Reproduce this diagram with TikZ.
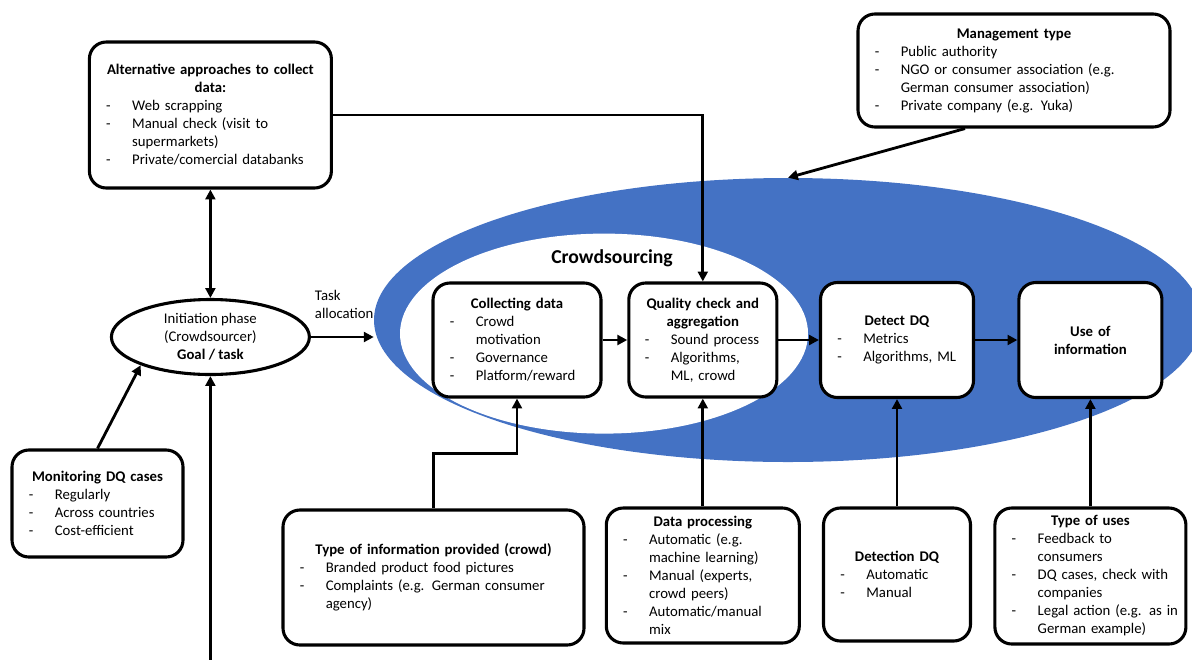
\documentclass[tikz,border=0pt]{standalone}
\usepackage{fontspec}
\setmainfont{Carlito}
\usepackage{tikz}
\usetikzlibrary{arrows.meta,positioning,shapes.geometric,calc}
\definecolor{crowdblue}{RGB}{68,114,196}
\newcommand{\boxfont}{\fontsize{10.5}{12.8}\selectfont}
\newcommand{\boxhead}[1]{\makebox[\linewidth][c]{\bfseries #1}}
\newcommand{\boxitem}[1]{\mbox{\makebox[0.65cm][l]{-}#1}}
\newcommand{\boxcont}[1]{\mbox{\hspace*{0.65cm}#1}}
\tikzset{
  infobox/.style={draw, line width=2.2pt, rounded corners=12pt, fill=white,
                  align=left, font=\boxfont, inner xsep=0.42cm, inner ysep=3pt,
                  text width=#1},
  infobox/.default=3cm,
  arr/.style ={-{Triangle[length=7pt,width=7pt]}, line width=2pt},
  darr/.style={{Triangle[length=7pt,width=7pt]}-{Triangle[length=7pt,width=7pt]},
               line width=2pt},
}

\begin{document}
\begin{tikzpicture}[
  phase/.style={ellipse, draw, line width=2.2pt, inner sep=0pt, align=center,
                font=\boxfont, minimum width=4.95cm, minimum height=1.875cm},
]
\useasboundingbox (0,0) rectangle (29.8,-16.475);

% crowdsourcing area
\node[ellipse, fill=crowdblue, minimum width=20.7cm, minimum height=7.1cm]
  (crowd) at (19.7,-8.0) {};
\node[ellipse, fill=white, minimum width=10.2cm, minimum height=5.0cm]
  (core) at (15.1,-8.34) {};
\node[font=\fontsize{14}{16}\selectfont\bfseries] (cstitle) at (15.3,-6.45)
  {Crowdsourcing};

\node[infobox=5.21cm, minimum height=3.65cm] (alt) at (5.26,-2.875)
  {\boxhead{Alternative approaches to collect}\\
   \boxhead{data:}\\
   \boxitem{Web scrapping}\\
   \boxitem{Manual check (visit to}\\
   \boxcont{supermarkets)}\\
   \boxitem{Private/comercial databanks}};

\node[infobox=6.96cm, minimum height=2.825cm] (mgmt) at (25.35,-1.7625)
  {\boxhead{Management type}\\
   \boxitem{Public authority}\\
   \boxitem{NGO or consumer association (e.g.}\\
   \boxcont{German consumer association)}\\
   \boxitem{Private company (e.g. Yuka)}};

\node[phase] (init) at (5.26,-8.425)
  {Initiation phase\\(Crowdsourcer)\\\textbf{Goal / task}};

\node[font=\boxfont, align=left, anchor=west] (task) at (7.75,-7.6)
  {Task\\allocation};

\node[infobox=3.36cm, minimum height=2.85cm] (coll) at (12.925,-8.5)
  {\boxhead{Collecting data}\\
   \boxitem{Crowd}\\
   \boxcont{motivation}\\
   \boxitem{Governance}\\
   \boxitem{Platform/reward}};

\node[infobox=2.9cm, inner xsep=0.4cm, minimum height=2.85cm] (qual) at (17.57,-8.5)
  {\boxhead{Quality check and}\\
   \boxhead{aggregation}\\
   \boxitem{Sound process}\\
   \boxitem{Algorithms,}\\
   \boxcont{ML, crowd}};

\node[infobox=2.985cm, minimum height=2.875cm] (det) at (22.425,-8.5)
  {\boxhead{Detect DQ}\\
   \boxitem{Metrics}\\
   \boxitem{Algorithms, ML}};

\node[infobox=2.735cm, align=center, minimum height=2.875cm] (use) at (27.26,-8.5)
  {\textbf{Use of}\\\textbf{information}};

\node[infobox=3.435cm, minimum height=2.675cm] (mon) at (2.4375,-12.5875)
  {\boxhead{Monitoring DQ cases}\\
   \boxitem{Regularly}\\
   \boxitem{Across countries}\\
   \boxitem{Cost-efficient}};

\node[infobox=6.685cm, minimum height=3.375cm] (tinfo) at (10.8375,-14.4375)
  {\boxhead{Type of information provided (crowd)}\\
   \boxitem{Branded product food pictures}\\
   \boxitem{Complaints (e.g. German consumer}\\
   \boxcont{agency)}};

\node[infobox=3.985cm, minimum height=3.375cm] (dproc) at (17.57,-14.3875)
  {\boxhead{Data processing}\\
   \boxitem{Automatic (e.g.}\\
   \boxcont{machine learning)}\\
   \boxitem{Manual (experts,}\\
   \boxcont{crowd peers)}\\
   \boxitem{Automatic/manual}\\
   \boxcont{mix}};

\node[infobox=2.835cm, minimum height=3.325cm] (detdq) at (22.425,-14.3625)
  {\boxhead{Detection DQ}\\
   \boxitem{Automatic}\\
   \boxitem{Manual}};

\node[infobox=3.935cm, minimum height=3.4cm] (uses) at (27.26,-14.4)
  {\boxhead{Type of uses}\\
   \boxitem{Feedback to}\\
   \boxcont{consumers}\\
   \boxitem{DQ cases, check with}\\
   \boxcont{companies}\\
   \boxitem{Legal action (e.g. as in}\\
   \boxcont{German example)}};

\coordinate (feed) at (5.26,-16.6);

% connectors
\draw[darr] (alt) -- (init);
\draw[arr] (alt.east) -| (qual.north);
\draw[arr] ([xshift=-1.225cm]mgmt.south) -- (crowd.north);
\draw[arr] (init.east) -- (init.east -| crowd.west);
\draw[arr] (coll) -- (qual);
\draw[arr] (qual) -- (det);
\draw[arr] (det)  -- (use);
\draw[arr] (mon.north) -- (init.202);
\draw[arr] (feed) -- (init.south);
\draw[arr] (tinfo.north) -- ++(0,1.375) -| (coll.south);
\draw[arr] (dproc) -- (qual);
\draw[arr] (detdq) -- (det);
\draw[arr] (uses)  -- (use);

\end{tikzpicture}
\end{document}
